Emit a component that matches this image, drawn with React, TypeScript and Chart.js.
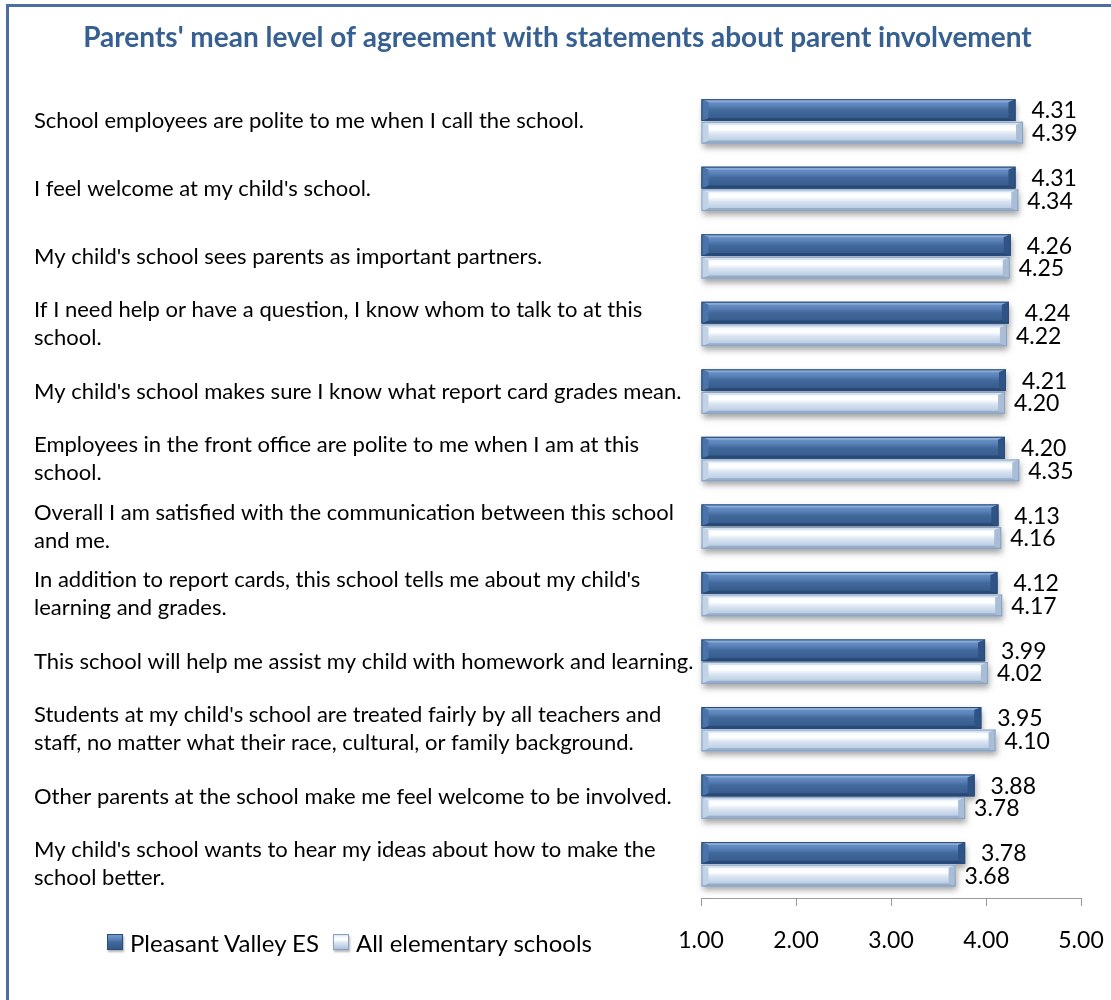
import React, { useEffect, useRef } from "react";
import { Chart, registerables } from "chart.js";

Chart.register(...registerables);

const TITLE = "Parents' mean level of agreement with statements about parent involvement";

const categories: string[][] = [
  ["School employees are polite to me when I call the school."],
  ["I feel welcome at my child's school."],
  ["My child's school sees parents as important partners."],
  ["If I need help or have a question, I know whom to talk to at this", "school."],
  ["My child's school makes sure I know what report card grades mean."],
  ["Employees in the front office are polite to me when I am at this", "school."],
  ["Overall I am satisfied with the communication between this school", "and me."],
  ["In addition to report cards, this school tells me about my child's", "learning and grades."],
  ["This school will help me assist my child with homework and learning."],
  ["Students at my child's school are treated fairly by all teachers and", "staff, no matter what their race, cultural, or family background."],
  ["Other parents at the school make me feel welcome to be involved."],
  ["My child's school wants to hear my ideas about how to make the", "school better."],
];

const seriesNames = ["Pleasant Valley ES", "All elementary schools"];
const pleasantValley = [4.31, 4.31, 4.26, 4.24, 4.21, 4.2, 4.13, 4.12, 3.99, 3.95, 3.88, 3.78];
const allElementary = [4.39, 4.34, 4.25, 4.22, 4.2, 4.35, 4.16, 4.17, 4.02, 4.1, 3.78, 3.68];
const axisMin = 1;
const axisMax = 5;

type Pal = {
  stops: [number, string][];
  top: string; bottom: string; left: string; right: string; edge: string;
};

const palettes: Pal[] = [
  {
    stops: [[0, "#7398CA"], [0.3, "#5A83BA"], [0.5, "#43699C"], [1, "#33598A"]],
    top: "#8AABD5", bottom: "#284A78", left: "#4A74AA", right: "#2E5384", edge: "#2B4C7A",
  },
  {
    stops: [[0, "#D3E0F1"], [0.15, "#F8FBFE"], [0.35, "#FFFFFF"], [0.55, "#DAE5F2"], [1, "#ADC2DD"]],
    top: "#D4E1F1", bottom: "#97AECB", left: "#C2D3E8", right: "#A9BDD7", edge: "#8AA2C0",
  },
];

function poly(ctx: CanvasRenderingContext2D, pts: number[][], color: string) {
  ctx.beginPath();
  ctx.moveTo(pts[0][0], pts[0][1]);
  for (let i = 1; i < pts.length; i++) ctx.lineTo(pts[i][0], pts[i][1]);
  ctx.closePath();
  ctx.fillStyle = color;
  ctx.fill();
}

function drawBevelBar(ctx: CanvasRenderingContext2D, x0: number, y0: number, x1: number, y1: number, pal: Pal) {
  const w = x1 - x0;
  const h = y1 - y0;
  if (w <= 0) return;
  const bx = Math.min(7, w / 2);
  const by = 3;
  ctx.save();
  ctx.shadowColor = "rgba(0,0,0,0.35)";
  ctx.shadowBlur = 6;
  ctx.shadowOffsetX = 1;
  ctx.shadowOffsetY = 4;
  ctx.fillStyle = pal.stops[pal.stops.length - 1][1];
  ctx.fillRect(x0, y0, w, h);
  ctx.restore();
  const g = ctx.createLinearGradient(0, y0, 0, y1);
  pal.stops.forEach(([o, c]) => g.addColorStop(o, c));
  ctx.fillStyle = g;
  ctx.fillRect(x0, y0, w, h);
  poly(ctx, [[x0, y0], [x1, y0], [x1 - bx, y0 + by], [x0 + bx, y0 + by]], pal.top);
  poly(ctx, [[x0, y1], [x1, y1], [x1 - bx, y1 - by], [x0 + bx, y1 - by]], pal.bottom);
  poly(ctx, [[x0, y0], [x0 + bx, y0 + by], [x0 + bx, y1 - by], [x0, y1]], pal.left);
  poly(ctx, [[x1, y0], [x1 - bx, y0 + by], [x1 - bx, y1 - by], [x1, y1]], pal.right);
  ctx.strokeStyle = pal.edge;
  ctx.lineWidth = 1;
  ctx.strokeRect(x0 + 0.5, y0 + 0.5, w - 1, h - 1);
}

const bevelPlugin = {
  id: "bevelBars",
  afterDatasetsDraw(chart: any) {
    const ctx: CanvasRenderingContext2D = chart.ctx;
    chart.data.datasets.forEach((ds: any, di: number) => {
      const meta = chart.getDatasetMeta(di);
      meta.data.forEach((el: any) => {
        const { x, y, base, height } = el.getProps(["x", "y", "base", "height"], true);
        drawBevelBar(ctx, Math.min(base, x), y - height / 2, Math.max(base, x), y + height / 2, palettes[di]);
      });
    });
    chart.data.datasets.forEach((ds: any, di: number) => {
      const meta = chart.getDatasetMeta(di);
      meta.data.forEach((el: any, i: number) => {
        const { x, y } = el.getProps(["x", "y"], true);
        ctx.save();
        ctx.font = "23px Lato";
        ctx.fillStyle = "#000";
        ctx.textAlign = "left";
        ctx.textBaseline = "middle";
        ctx.fillText(Number(ds.data[i]).toFixed(2), x + (di === 0 ? 16 : 9), y + 1);
        ctx.restore();
      });
    });
  },
};

function LegendBox({ pal }: { pal: Pal }) {
  const grad = pal.stops.map(([o, c]) => `${c} ${Math.round(o * 100)}%`).join(", ");
  return (
    <span
      style={{
        display: "inline-block",
        width: 16,
        height: 16,
        boxSizing: "border-box",
        border: `1px solid ${pal.edge}`,
        background: `linear-gradient(${grad})`,
        boxShadow: "1px 2px 2px rgba(0,0,0,0.3)",
        marginRight: 7,
      }}
    />
  );
}

export default function App() {
  const ref = useRef<HTMLCanvasElement>(null);
  useEffect(() => {
    const chart = new Chart(ref.current!, {
      type: "bar",
      data: {
        labels: categories,
        datasets: [
          {
            label: seriesNames[0],
            data: pleasantValley,
            base: axisMin,
            backgroundColor: "rgba(0,0,0,0)",
            borderWidth: 0,
            categoryPercentage: 0.67,
            barPercentage: 0.96,
          } as any,
          {
            label: seriesNames[1],
            data: allElementary,
            base: axisMin,
            backgroundColor: "rgba(0,0,0,0)",
            borderWidth: 0,
            categoryPercentage: 0.67,
            barPercentage: 0.96,
          } as any,
        ],
      },
      options: {
        indexAxis: "y",
        responsive: false,
        animation: false,
        layout: { padding: { left: 34, right: 30, top: 0, bottom: 0 } },
        plugins: {
          legend: { display: false },
          tooltip: { enabled: false },
          title: {
            display: true,
            text: TITLE,
            color: "#376092",
            font: { family: "Lato", size: 28, weight: "bold" },
            padding: { top: 21, bottom: 33 },
          },
        },
        scales: {
          x: {
            min: axisMin,
            max: axisMax,
            afterFit: (s: any) => {
              s.height = 102;
              s.paddingLeft = 0;
              s.paddingRight = 0;
            },
            ticks: {
              stepSize: 1,
              color: "#000",
              font: { family: "Lato", size: 23 },
              padding: 21,
              callback: (v: any) => Number(v).toFixed(2),
            },
            grid: { drawOnChartArea: false, drawTicks: true, tickLength: 8, color: "#9A9A9A" },
            border: { display: true, color: "#9A9A9A", width: 1 },
          },
          y: {
            afterFit: (s: any) => {
              s.width = 667;
              s.paddingTop = 0;
              s.paddingBottom = 0;
            },
            ticks: {
              crossAlign: "far",
              autoSkip: false,
              color: "#000",
              font: { family: "Lato", size: 22, lineHeight: 1.27 },
            },
            grid: { display: false },
            border: { display: false },
          },
        },
      },
      plugins: [bevelPlugin],
    } as any);
    return () => chart.destroy();
  }, []);

  return (
    <div style={{ position: "fixed", left: 0, top: 0, width: 1111, height: 1000, overflow: "hidden", background: "#fff" }}>
      <div
        style={{
          position: "absolute",
          left: 6,
          top: 4,
          width: 1300,
          height: 1300,
          border: "3px solid #4A6FA0",
          boxSizing: "border-box",
        }}
      />
      <canvas ref={ref} width={1111} height={1000} style={{ position: "absolute", left: 0, top: 0, width: 1111, height: 1000 }} />
      <div
        style={{
          position: "absolute",
          left: 107,
          top: 927,
          height: 30,
          display: "flex",
          alignItems: "center",
          fontFamily: "Lato",
          fontSize: 24,
          color: "#000",
          whiteSpace: "nowrap",
        }}
      >
        <LegendBox pal={palettes[0]} />
        <span style={{ marginRight: 14 }}>{seriesNames[0]}</span>
        <LegendBox pal={palettes[1]} />
        <span>{seriesNames[1]}</span>
      </div>
    </div>
  );
}
